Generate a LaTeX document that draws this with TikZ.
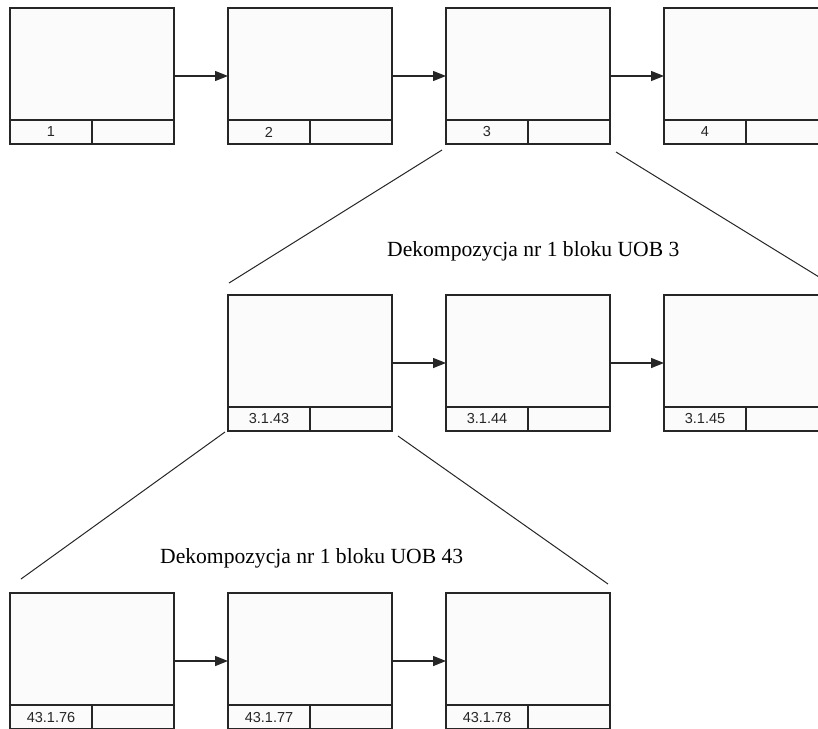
\documentclass[tikz,border=0pt]{standalone}
\usepackage{fontspec}
\setmainfont{Liberation Serif}
\newfontfamily\etykfont{Liberation Sans}
\usetikzlibrary{positioning,arrows.meta}
\definecolor{linia}{HTML}{262626}
\definecolor{tlo}{HTML}{FBFBFB}

\begin{document}
\begin{tikzpicture}[x=1pt,y=-1pt,
  blok/.style={draw=linia,fill=tlo,line width=1.4pt,minimum width=164pt,minimum height=136pt,
    inner sep=0pt,outer sep=0pt},
  pole/.style={draw=linia,line width=1.3pt,minimum width=82pt,minimum height=24pt,inner sep=0pt,outer sep=0pt,
    font=\etykfont\fontsize{14.5}{16}\selectfont,text=linia},
  strz/.style={draw=linia,line width=1.4pt,-{Triangle[length=13pt,width=10pt]}},
  dek/.style={draw=linia,line width=1pt},
  opis/.style={font=\fontsize{21.6}{24}\selectfont,anchor=base west,inner sep=0pt}]
\useasboundingbox (0,0) rectangle (818,728);
\clip (0,0) rectangle (818,728);

% poziom 0
\node[blok,anchor=north west] (b1) at (10,8) {};
\node[blok,right=54pt of b1] (b2) {};
\node[blok,right=54pt of b2] (b3) {};
\node[blok,right=54pt of b3] (b4) {};
\node[pole,above left=0pt of b1.south] (n1) {1}; \node[pole,above right=0pt of b1.south] (m1) {};
\node[pole,above left=0pt of b2.south] (n2) {2}; \node[pole,above right=0pt of b2.south] (m2) {};
\node[pole,above left=0pt of b3.south] (n3) {3}; \node[pole,above right=0pt of b3.south] (m3) {};
\node[pole,above left=0pt of b4.south] (n4) {4}; \node[pole,above right=0pt of b4.south] (m4) {};
\draw[strz] (b1) -- (b2);
\draw[strz] (b2) -- (b3);
\draw[strz] (b3) -- (b4);

% dekompozycja bloku 3
\node[opis] (d1) at (387,256) {Dekompozycja nr 1 bloku UOB 3};
\node[blok,anchor=north west] (b31) at (228,295) {};
\node[blok,right=54pt of b31] (b32) {};
\node[blok,right=54pt of b32] (b33) {};
\node[pole,above left=0pt of b31.south] (n31) {3.1.43}; \node[pole,above right=0pt of b31.south] (m31) {};
\node[pole,above left=0pt of b32.south] (n32) {3.1.44}; \node[pole,above right=0pt of b32.south] (m32) {};
\node[pole,above left=0pt of b33.south] (n33) {3.1.45}; \node[pole,above right=0pt of b33.south] (m33) {};
\draw[strz] (b31) -- (b32);
\draw[strz] (b32) -- (b33);
\coordinate (a1) at (442,150); \coordinate (a2) at (229,283);
\coordinate (c1) at (616,152); \coordinate (c2) at (832,285);
\draw[dek] (a1) -- (a2);
\draw[dek] (c1) -- (c2);

% dekompozycja bloku 43
\node[opis] (d2) at (160,563) {Dekompozycja nr 1 bloku UOB 43};
\node[blok,anchor=north west] (b41) at (10,593) {};
\node[blok,right=54pt of b41] (b42) {};
\node[blok,right=54pt of b42] (b43) {};
\node[pole,above left=0pt of b41.south] (n41) {43.1.76}; \node[pole,above right=0pt of b41.south] (m41) {};
\node[pole,above left=0pt of b42.south] (n42) {43.1.77}; \node[pole,above right=0pt of b42.south] (m42) {};
\node[pole,above left=0pt of b43.south] (n43) {43.1.78}; \node[pole,above right=0pt of b43.south] (m43) {};
\draw[strz] (b41) -- (b42);
\draw[strz] (b42) -- (b43);
\coordinate (e1) at (225,432); \coordinate (e2) at (21,579);
\coordinate (f1) at (398,436); \coordinate (f2) at (608,584);
\draw[dek] (e1) -- (e2);
\draw[dek] (f1) -- (f2);
\end{tikzpicture}
\end{document}
